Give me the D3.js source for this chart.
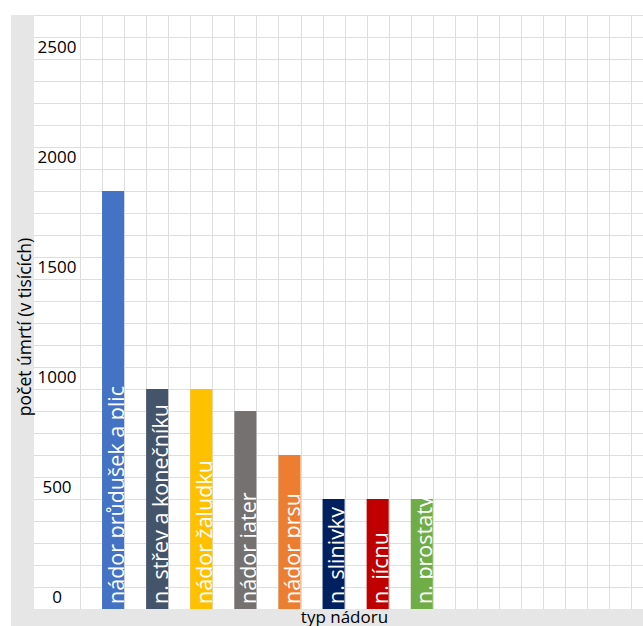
<!DOCTYPE html>
<html>
<head>
<meta charset="utf-8">
<script src="https://cdn.jsdelivr.net/npm/d3@7"></script>
<style>
  html, body { margin: 0; padding: 0; background: #fff; }
  svg { display: block; }
  text { font-family: "Open Sans", "Noto Sans", sans-serif; }
</style>
</head>
<body>
<svg id="chart" width="643" height="626"></svg>
<script>
// Data: deaths by tumour type (thousands)
const categories = [
  "nádor průdušek a plic",
  "n. střev a konečníku",
  "nádor žaludku",
  "nádor jater",
  "nádor prsu",
  "n. slinivky",
  "n. jícnu",
  "n. prostaty"
];
const deaths = [1900, 1000, 1000, 900, 700, 500, 500, 500];
const barColors = ["#4472C4", "#44546A", "#FFC000", "#767171", "#ED7D31", "#002060", "#C00000", "#70AD47"];
const yTickValues = [0, 500, 1000, 1500, 2000, 2500];
const yTitle = "počet úmrtí (v tisících)";
const xTitle = "typ nádoru";

const W = 643, H = 626;
const svg = d3.select("#chart");

// Layout
const sheetLeft = 11, sheetTop = 15;
const labelColLeft = 34, plotLeft = 80;
const plotBottom = 609;

const y = d3.scaleLinear().domain([0, 2700]).range([plotBottom, sheetTop]);
const x = d3.scaleBand()
  .domain(categories)
  .range([plotLeft, plotLeft + 8.5 * 44.1])
  .paddingInner(0.5)
  .paddingOuter(0.5);

const gridColor = "#dedede";
const bandColor = "#e6e6e6";

// Grey header bands (left column and bottom row)
svg.append("rect")
  .attr("x", sheetLeft).attr("y", sheetTop)
  .attr("width", labelColLeft - sheetLeft).attr("height", H - sheetTop)
  .attr("fill", bandColor);
svg.append("rect")
  .attr("x", sheetLeft).attr("y", plotBottom)
  .attr("width", W - sheetLeft).attr("height", H - plotBottom)
  .attr("fill", bandColor);

// Cell grid: horizontal lines every 100, vertical lines every half band step
const grid = svg.append("g").attr("shape-rendering", "crispEdges");
grid.selectAll("line.h")
  .data(d3.range(100, 2800, 100))
  .join("line")
  .attr("class", "h")
  .attr("x1", labelColLeft).attr("x2", W)
  .attr("y1", d => Math.round(y(d)) + 0.5)
  .attr("y2", d => Math.round(y(d)) + 0.5)
  .attr("stroke", gridColor).attr("stroke-width", 1);

const half = x.step() / 2;
const vLines = d3.range(0, Math.ceil((W - plotLeft) / half)).map(k => x.range()[0] + k * half);
grid.selectAll("line.v")
  .data(vLines)
  .join("line")
  .attr("class", "v")
  .attr("x1", d => Math.round(d) + 0.5).attr("x2", d => Math.round(d) + 0.5)
  .attr("y1", sheetTop).attr("y2", plotBottom)
  .attr("stroke", gridColor).attr("stroke-width", 1);

// Y tick labels, centred in the label column just above each tick value
svg.append("g")
  .selectAll("text")
  .data(yTickValues)
  .join("text")
  .attr("x", (labelColLeft + plotLeft) / 2)
  .attr("y", d => y(d) - 6.5)
  .attr("text-anchor", "middle")
  .attr("font-size", 17)
  .attr("fill", "#000")
  .text(d => d);

// Bars
const rows = categories.map((c, i) => ({ name: c, value: deaths[i], color: barColors[i], i }));
const defs = svg.append("defs");
defs.selectAll("clipPath")
  .data(rows)
  .join("clipPath")
  .attr("id", d => "clip" + d.i)
  .append("rect")
  .attr("x", d => x(d.name))
  .attr("y", d => y(d.value))
  .attr("width", x.bandwidth())
  .attr("height", d => y(0) - y(d.value));

const bars = svg.append("g");
bars.selectAll("rect")
  .data(rows)
  .join("rect")
  .attr("x", d => x(d.name))
  .attr("y", d => y(d.value))
  .attr("width", x.bandwidth())
  .attr("height", d => y(0) - y(d.value))
  .attr("fill", d => d.color);

// Category names written inside the bars, bottom to top
bars.selectAll("g.lbl")
  .data(rows)
  .join("g")
  .attr("class", "lbl")
  .attr("clip-path", d => `url(#clip${d.i})`)
  .append("text")
  .attr("transform", d => `translate(${x(d.name) + x.bandwidth() - 0.5},${y(0) - 5}) rotate(-90)`)
  .attr("font-size", 21.5)
  .attr("fill", "#fff")
  .text(d => d.name);

// Axis titles
svg.append("text")
  .attr("transform", `translate(31,327) rotate(-90)`)
  .attr("text-anchor", "middle")
  .attr("font-size", 17.5)
  .attr("fill", "#000")
  .text(yTitle);

svg.append("text")
  .attr("x", 344.5)
  .attr("y", 622.5)
  .attr("text-anchor", "middle")
  .attr("font-size", 17)
  .attr("fill", "#000")
  .text(xTitle);
</script>
</body>
</html>
